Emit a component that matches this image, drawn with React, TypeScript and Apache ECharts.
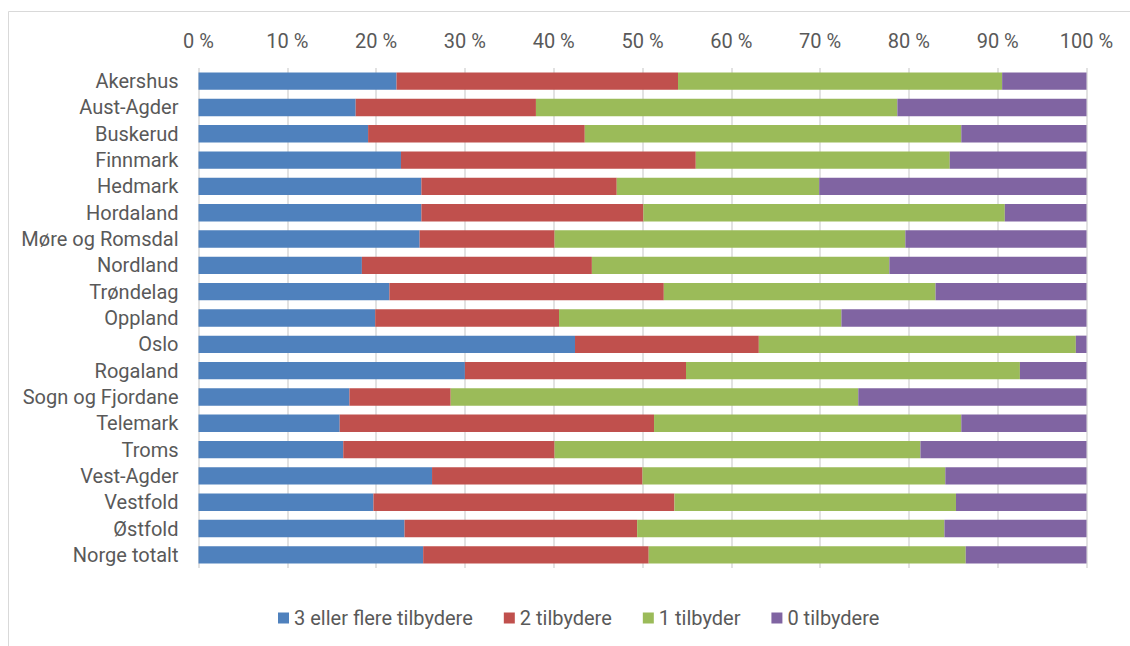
import React, { useEffect, useRef } from "react";
import * as echarts from "echarts";

const categories = [
  "Akershus",
  "Aust-Agder",
  "Buskerud",
  "Finnmark",
  "Hedmark",
  "Hordaland",
  "Møre og Romsdal",
  "Nordland",
  "Trøndelag",
  "Oppland",
  "Oslo",
  "Rogaland",
  "Sogn og Fjordane",
  "Telemark",
  "Troms",
  "Vest-Agder",
  "Vestfold",
  "Østfold",
  "Norge totalt",
];

const seriesNames = ["3 eller flere tilbydere", "2 tilbydere", "1 tilbyder", "0 tilbydere"];

const threeOrMore = [22.3, 17.7, 19.1, 22.8, 25.1, 25.1, 24.9, 18.4, 21.5, 19.9, 42.4, 30.0, 17.0, 15.9, 16.3, 26.3, 19.7, 23.2, 25.3];
const two = [31.7, 20.3, 24.4, 33.2, 22.0, 25.0, 15.2, 25.9, 30.9, 20.7, 20.7, 24.9, 11.4, 35.4, 23.8, 23.7, 33.9, 26.2, 25.4];
const one = [36.5, 40.7, 42.4, 28.6, 22.8, 40.7, 39.5, 33.5, 30.6, 31.8, 35.7, 37.6, 45.9, 34.6, 41.2, 34.1, 31.7, 34.6, 35.7];
const zero = [9.5, 21.3, 14.1, 15.4, 30.1, 9.2, 20.4, 22.2, 17.0, 27.6, 1.2, 7.5, 25.7, 14.1, 18.7, 15.9, 14.7, 16.0, 13.6];

const colors = ["#4F81BD", "#C0504D", "#9BBB59", "#8064A2"];
const FONT = "Roboto";
const TEXT = "#595959";

export default function App() {
  const ref = useRef<HTMLDivElement>(null);
  useEffect(() => {
    if (!ref.current) return;
    const chart = echarts.init(ref.current, null, { renderer: "svg" });
    const values = [threeOrMore, two, one, zero];
    chart.setOption({
      animation: false,
      backgroundColor: "#ffffff",
      color: colors,
      textStyle: { fontFamily: FONT },
      graphic: [
        {
          type: "rect",
          shape: { x: 8.5, y: 11.5, width: 1300, height: 800 },
          style: { fill: "none", stroke: "#d9d9d9", lineWidth: 1 },
          silent: true,
        },
      ],
      grid: { left: 198.5, right: 43.5, top: 68, bottom: 78, containLabel: false },
      legend: {
        data: seriesNames,
        left: 278,
        top: 606,
        padding: 0,
        itemWidth: 11,
        itemHeight: 11,
        itemGap: 31,
        icon: "rect",
        textStyle: { fontFamily: FONT, fontSize: 20, color: TEXT, lineHeight: 24 },
      },
      xAxis: {
        type: "value",
        position: "top",
        min: 0,
        max: 100,
        interval: 10,
        axisLine: { show: false },
        axisTick: { show: false },
        splitLine: { show: true, lineStyle: { color: "#d9d9d9", width: 1.5 } },
        axisLabel: {
          formatter: "{value} %",
          fontFamily: FONT,
          fontSize: 20,
          color: TEXT,
          margin: 17,
        },
      },
      yAxis: {
        type: "category",
        data: categories,
        inverse: true,
        axisLine: { show: false },
        axisTick: { show: false },
        axisLabel: { fontFamily: FONT, fontSize: 20, color: TEXT, margin: 20 },
      },
      series: seriesNames.map((name, i) => ({
        name,
        type: "bar",
        stack: "total",
        barWidth: "66%",
        data: values[i],
        itemStyle: { color: colors[i] },
      })),
    });
    return () => chart.dispose();
  }, []);
  return (
    <div
      ref={ref}
      style={{ position: "absolute", left: 0, top: 0, width: 1130, height: 646 }}
    />
  );
}
